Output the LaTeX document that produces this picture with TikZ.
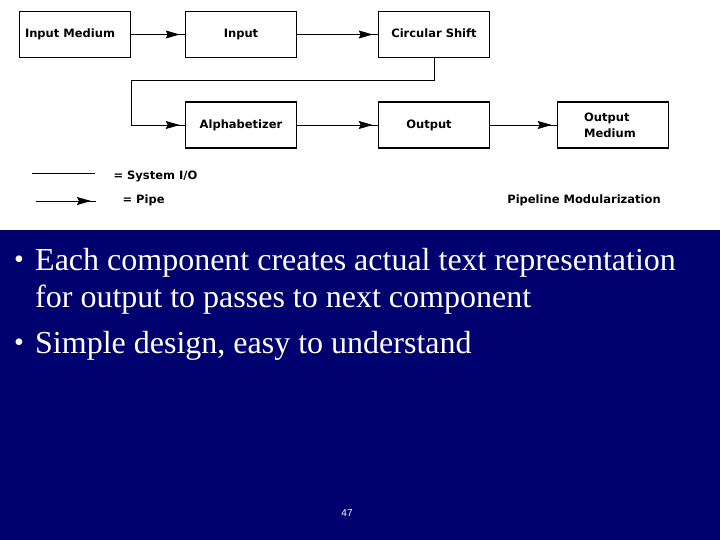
\documentclass[tikz,border=0pt]{standalone}
\usepackage{fontspec}
\setmainfont{Liberation Serif}
\newfontfamily\boxfont{DejaVu Sans}
\newfontfamily\pagefont{Liberation Sans}
\usetikzlibrary{arrows.meta,decorations.markings}

\definecolor{slidenavy}{RGB}{0,0,110}

\begin{document}
\begin{tikzpicture}[x=1pt,y=-1pt,>=Stealth,
  box/.style={draw,line width=1.6pt,minimum width=111pt,minimum height=46pt,
    inner sep=0pt,font=\boxfont\bfseries\fontsize{11.5}{16}\selectfont},
  legend/.style={font=\boxfont\bfseries\fontsize{11.5}{13}\selectfont},
  sysio/.style={line width=0.8pt},
  pipe/.style={line width=0.8pt,postaction={decorate},
    decoration={markings,mark=at position -5pt with {\arrow{Stealth[length=14pt,width=8pt,inset=2pt]}}}},
  bullet/.style={anchor=base west,text=white,font=\fontsize{32}{38}\selectfont,inner sep=0pt}]
  % slide background
  \fill[white] (0,0) rectangle (720,230);
  \fill[slidenavy] (0,230) rectangle (720,540);
  \useasboundingbox (0,0) rectangle (720,540);
  % pipeline
  \node[box] (inmed) at (75,34.5) {Input Medium\hspace*{10pt}};
  \node[box] (input) at (241,34.5) {\raisebox{2pt}{Input}};
  \node[box] (cshift) at (434,34.5) {\raisebox{2pt}{Circular Shift}};
  \node[box] (alpha) at (241,125) {Alphabetizer};
  \node[box] (output) at (434,125) {Output\hspace*{10pt}};
  \node[box,align=left] (outmed) at (613,125) {Output\\Medium\hspace*{6pt}};
  \coordinate (bend) at (131,80);
  \draw[pipe] (inmed) -- (input);
  \draw[pipe] (input) -- (cshift);
  \draw[pipe] (cshift.south) |- (bend) |- (alpha.west);
  \draw[pipe] (alpha) -- (output);
  \draw[pipe] (output) -- (outmed);
  % legend
  \coordinate (ioa) at (32,173);
  \coordinate (iob) at (95,173);
  \draw[sysio] (ioa) -- (iob);
  \node[legend,anchor=west] (iolbl) at (110,176) {= System I/O};
  \coordinate (pipea) at (36,201);
  \coordinate (pipeb) at (96,201);
  \draw[pipe] (pipea) -- (pipeb);
  \node[legend,anchor=west] (pipelbl) at (119,200) {= Pipe};
  \node[legend] (caption) at (584,200) {Pipeline Modularization};
  % bullets
  \node[bullet,font=\fontsize{28}{34}\selectfont] (dot1) at (14,268) {\textbullet};
  \node[bullet] (line1) at (35,270) {Each component creates actual text representation};
  \node[bullet] (line2) at (35,307.5) {for output to passes to next component};
  \node[bullet,font=\fontsize{28}{34}\selectfont] (dot2) at (14,351) {\textbullet};
  \node[bullet] (line3) at (35,353) {Simple design, easy to understand};
  \node[text=white,font=\pagefont\fontsize{10}{12}\selectfont] (pgnum) at (347,513) {47};
\end{tikzpicture}
\end{document}
